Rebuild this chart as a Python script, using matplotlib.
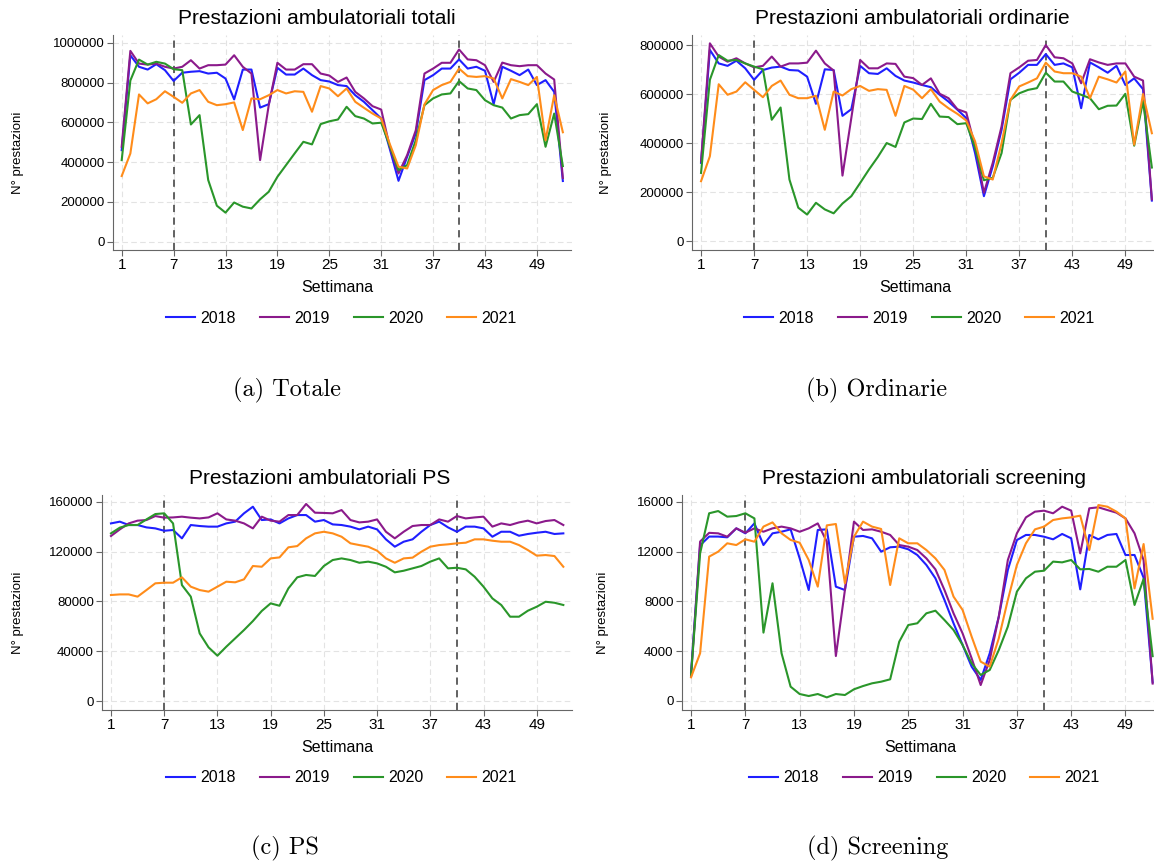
import numpy as np
import matplotlib.pyplot as plt
from matplotlib.lines import Line2D

settimane = np.arange(1, 53)
anni = ['2018', '2019', '2020', '2021']
colori = ['#1f1fff', '#8b1a8b', '#2a962a', '#ff8c1a']

# (a) prestazioni totali, in migliaia
tot_2018 = [460, 937, 879, 865, 892, 862, 808, 849, 854, 857, 845, 849, 820, 715, 865, 865,
            674, 691, 874, 840, 840, 870, 837, 812, 805, 787, 782, 736, 703, 661, 619, 465,
            306, 427, 544, 812, 837, 870, 870, 916, 870, 879, 859, 691, 879, 859, 837, 865,
            787, 812, 753, 305]
tot_2019 = [477, 959, 895, 890, 895, 879, 870, 879, 912, 870, 887, 887, 890, 937, 879, 845,
            410, 686, 899, 865, 865, 892, 892, 845, 835, 803, 825, 753, 720, 681, 664, 475,
            343, 435, 560, 845, 870, 899, 899, 966, 916, 912, 887, 803, 900, 887, 882, 887,
            887, 845, 815, 320]
tot_2020 = [410, 810, 915, 890, 904, 895, 867, 862, 589, 636, 310, 181, 146, 197, 176, 167,
            213, 251, 326, 385, 444, 502, 489, 591, 605, 614, 678, 631, 619, 594, 598, 480,
            360, 385, 510, 686, 720, 740, 745, 807, 770, 762, 711, 686, 674, 619, 636, 641,
            691, 477, 644, 380]
tot_2021 = [330, 443, 740, 695, 716, 756, 728, 698, 745, 762, 703, 686, 691, 700, 561, 720,
            716, 736, 762, 745, 756, 753, 653, 782, 770, 731, 770, 703, 673, 644, 619, 490,
            377, 368, 485, 690, 762, 787, 803, 870, 832, 828, 832, 820, 720, 817, 803, 787,
            828, 510, 736, 550]

# (b) prestazioni ordinarie, in migliaia
ord_2018 = [319, 780, 725, 715, 736, 705, 658, 698, 708, 712, 698, 696, 671, 560, 701, 698,
            511, 538, 715, 685, 682, 705, 674, 655, 647, 637, 628, 597, 569, 536, 502, 359,
            183, 305, 454, 660, 687, 719, 719, 763, 719, 725, 709, 542, 729, 709, 687, 715,
            637, 664, 620, 165]
ord_2019 = [325, 807, 753, 732, 746, 725, 709, 715, 753, 712, 725, 725, 728, 777, 725, 696,
            267, 502, 739, 705, 705, 725, 723, 671, 665, 637, 664, 601, 583, 538, 525, 386,
            197, 319, 468, 685, 709, 736, 739, 800, 750, 746, 725, 644, 742, 729, 719, 725,
            725, 671, 655, 170]
ord_2020 = [278, 658, 759, 736, 739, 725, 712, 701, 495, 545, 251, 136, 108, 156, 129, 113,
            153, 183, 237, 292, 343, 400, 384, 484, 500, 498, 560, 508, 506, 477, 481, 380,
            248, 258, 359, 576, 603, 617, 624, 687, 651, 651, 610, 597, 583, 538, 552, 553,
            601, 389, 570, 300]
ord_2021 = [244, 346, 640, 597, 610, 648, 617, 587, 633, 655, 597, 583, 583, 593, 454, 610,
            594, 620, 633, 613, 620, 617, 511, 633, 618, 583, 620, 569, 542, 519, 492, 407,
            264, 251, 400, 576, 631, 647, 664, 728, 692, 685, 685, 671, 583, 671, 660, 647,
            692, 393, 600, 440]

# (c) prestazioni PS, in migliaia
ps_2018 = [142.6, 144, 141.3, 141.3, 139.4, 138.6, 136.7, 137.3, 130.6, 141.3, 140.5, 140,
           140, 142.6, 144, 150.7, 156, 145.3, 145.8, 142.6, 146.6, 149.3, 149.3, 144, 145.3,
           141.8, 141.3, 140, 137.8, 140, 137.8, 129.8, 123.9, 127.9, 129.8, 135.9, 141.3,
           144, 139.4, 135.9, 140, 140, 138.6, 131.9, 135.9, 135.9, 132.7, 134.1, 135.1,
           135.9, 134.1, 134.6]
ps_2019 = [132.5, 137.8, 142.6, 144.8, 145.3, 148.5, 147.2, 147.4, 148, 147.2, 146.6, 147.4,
           150.7, 145.8, 144.8, 142.6, 138.6, 148, 144.8, 144, 149.3, 149.3, 158.2, 151.2,
           151, 150.7, 153.3, 145.3, 143.4, 144, 145.8, 135.9, 130.6, 135.9, 140.5, 141.3,
           141.3, 145.8, 144, 148.5, 146.6, 147.4, 148, 140, 142.6, 141.3, 143.4, 144.8,
           142.6, 144.5, 145.3, 141.3]
ps_2020 = [134.6, 139.2, 141.3, 141.3, 145.8, 150.1, 150.7, 142.6, 93.1, 83.8, 54.3, 43.1,
           36.4, 43.6, 50.3, 57, 64.2, 72.3, 78.4, 76.5, 90.4, 99.3, 101.2, 100.4, 108.4,
           113.2, 114.5, 113.2, 111, 111.9, 110.5, 107.8, 103.3, 104.6, 106.5, 108.4, 111.9,
           114.5, 106.5, 107, 105.7, 99.8, 91.8, 82.4, 77.1, 67.7, 67.7, 72.5, 75.7, 79.7,
           78.9, 77.1]
ps_2021 = [85.1, 85.6, 85.6, 83.8, 89.1, 94.5, 95, 95, 99.3, 91.8, 89.1, 87.8, 91.8, 95.8,
           95.3, 97.7, 108.4, 107.8, 114.5, 115.3, 123.4, 124.4, 130.6, 134.6, 135.9, 134.6,
           131.9, 126.6, 125.2, 123.9, 120.7, 114.5, 111, 114.5, 115.1, 119.9, 123.9, 125.2,
           125.8, 126.6, 127.1, 129.8, 129.8, 128.7, 127.9, 127.9, 125.2, 121.2, 116.7,
           117.2, 116.4, 107.8]

# (d) prestazioni di screening
scr_2018 = [2300, 12500, 13200, 13200, 13140, 13860, 13460, 14260, 12520, 13460, 13590, 13780,
            11450, 8910, 13730, 13780, 9180, 8910, 13190, 13250, 13060, 11990, 12340, 12390,
            12180, 11720, 10920, 9850, 8110, 6240, 4500, 2760, 1690, 3830, 6770, 10520, 12920,
            13330, 13330, 13190, 12980, 13410, 13060, 8960, 13330, 12980, 13330, 13410, 11720,
            11720, 9900, 1500]
scr_2019 = [2000, 12800, 13500, 13460, 13190, 13860, 13510, 13860, 13590, 13860, 14000, 13860,
            13590, 13860, 14260, 12790, 3610, 8910, 14400, 13730, 13780, 13590, 13330, 12520,
            12390, 12120, 11450, 10570, 8910, 7040, 5430, 3430, 1280, 3290, 6770, 11320, 13460,
            14740, 15200, 15280, 15070, 15600, 15280, 11850, 15470, 15550, 15330, 15120, 14660,
            13460, 11300, 1400]
scr_2020 = [2100, 11850, 15070, 15250, 14800, 14850, 15070, 14660, 5490, 9450, 3830, 1150,
            560, 400, 560, 290, 560, 480, 940, 1200, 1420, 1550, 1740, 4760, 6100, 6240, 7040,
            7250, 6500, 5700, 4500, 3020, 2090, 2490, 4090, 5970, 8780, 9850, 10380, 10460,
            11190, 11130, 11320, 10570, 10600, 10380, 10780, 10780, 11320, 7710, 9800, 3600]
scr_2021 = [1900, 3830, 11590, 11990, 12660, 12520, 12980, 12790, 14000, 14340, 13460, 12930,
            12710, 11320, 9180, 14100, 14210, 9450, 13190, 14400, 14000, 13810, 9310, 13060,
            12660, 12660, 12120, 11450, 10520, 8380, 7310, 5170, 3160, 2760, 5030, 8110, 10920,
            12660, 13780, 14000, 14530, 14660, 14740, 14880, 12120, 15730, 15600, 15200, 14660,
            9040, 12600, 6600]

xticks = [1, 7, 13, 19, 25, 31, 37, 43, 49]

W, H = 1154, 861
fig = plt.figure(figsize=(W / 100, H / 100), dpi=100)
plt.rcParams['font.family'] = ['Liberation Sans', 'DejaVu Sans']


def px_axes(x0, x1, ytop, ybot):
    return fig.add_axes([x0 / W, 1 - ybot / H, (x1 - x0) / W, (ybot - ytop) / H])


def pannello(ax, serie, scala, yticks, ylim, titolo, tx, ty, xlab_x, ylab_x, cap, cap_x, cap_y):
    for s, c in zip(serie, colori):
        ax.plot(settimane, np.array(s) * scala, color=c, lw=1.5, zorder=3)
    for w in (7, 40):
        ax.axvline(w, color='#555555', ls=(0, (4, 3)), lw=1.3, zorder=2)
    ax.set_xlim(0, 53)
    ax.set_ylim(*ylim)
    ax.set_xticks(xticks)
    ax.set_yticks(yticks)
    ax.set_yticklabels([str(v) for v in yticks])
    ax.grid(True, color='#e3e3e3', ls=(0, (5, 3)), lw=0.8, zorder=0)
    for side in ('top', 'right'):
        ax.spines[side].set_visible(False)
    for side in ('left', 'bottom'):
        ax.spines[side].set_color('#666666')
    ax.tick_params(colors='#666666', labelcolor='black', length=4, pad=2)
    ax.tick_params(axis='x', labelsize=11)
    ax.tick_params(axis='y', labelsize=9.5)
    ax.patch.set_alpha(0)

    pos = ax.get_position()
    fig.text(tx / W, 1 - ty / H, titolo, ha='center', va='center', fontsize=15)
    fig.text(xlab_x / W, pos.y0 - 38 / H, 'Settimana', ha='center', va='center', fontsize=11.5)
    fig.text(ylab_x / W, pos.y0 + pos.height / 2 - 10 / H, 'N° prestazioni', rotation=90,
             ha='center', va='center', fontsize=9.5)
    maniglie = [Line2D([], [], color=c, lw=1.5) for c in colori]
    ax.legend(maniglie, anni, loc='center', ncol=4, frameon=False, fontsize=11.5,
              handlelength=1.8, handletextpad=0.35, columnspacing=1.5,
              bbox_to_anchor=(xlab_x / W + 0.004, pos.y0 - 68 / H),
              bbox_transform=fig.transFigure)
    fig.text(cap_x / W, 1 - cap_y / H, cap, ha='center', va='center', fontsize=17.5,
             family='cmr10')


ax_a = px_axes(113.05, 571.5, 35, 250)
pannello(ax_a, [tot_2018, tot_2019, tot_2020, tot_2021], 1000,
         [0, 200000, 400000, 600000, 800000, 1000000], (-41700, 1038700),
         'Prestazioni ambulatoriali totali', 317, 18, 337, 18, '(a) Totale', 287, 390)

ax_b = px_axes(692.2, 1160.7, 35, 250)
pannello(ax_b, [ord_2018, ord_2019, ord_2020, ord_2021], 1000,
         [0, 200000, 400000, 600000, 800000], (-36700, 841000),
         'Prestazioni ambulatoriali ordinarie', 912, 18, 915, 606, '(b) Ordinarie', 877, 390)

ax_c = px_axes(102.1, 572.2, 495, 710)
pannello(ax_c, [ps_2018, ps_2019, ps_2020, ps_2021], 1000,
         [0, 40000, 80000, 120000, 160000], (-7200, 165400),
         'Prestazioni ambulatoriali PS', 320, 478, 337, 18, '(c) PS', 285, 848)

ax_d = px_axes(682, 1161.7, 495, 710)
pannello(ax_d, [scr_2018, scr_2019, scr_2020, scr_2021], 1,
         [0, 4000, 8000, 12000, 16000], (-723, 16538),
         'Prestazioni ambulatoriali screening', 924, 478, 920, 603, '(d) Screening', 878, 848)

fig.savefig('out.png', dpi=100)
